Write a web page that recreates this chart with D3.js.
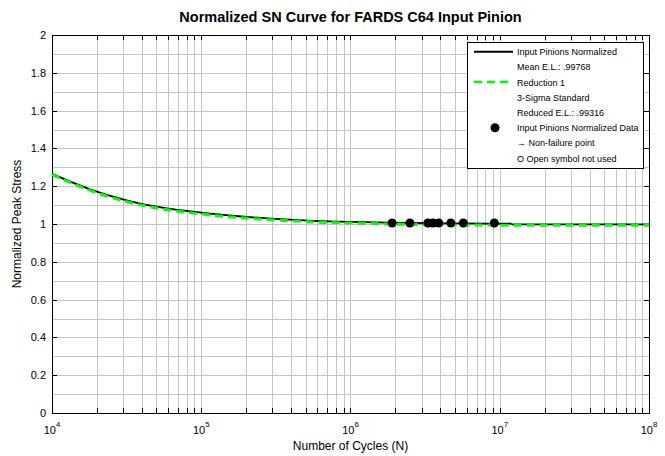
<!DOCTYPE html>
<html><head><meta charset="utf-8">
<script src="https://cdn.jsdelivr.net/npm/d3@7"></script>
<style>
html,body{margin:0;padding:0;background:#fff;}
text{font-family:"Liberation Sans",Arial,sans-serif;}
</style></head>
<body><svg id="c" width="665" height="456"></svg>
<script>
// ---- data ----
const title = "Normalized SN Curve for FARDS C64 Input Pinion";
const xLabel = "Number of Cycles (N)";
const yLabel = "Normalized Peak Stress";
const meanCycles = [1e4, 1.78e4, 3.16e4, 5.62e4, 1e5, 1.78e5, 3.16e5, 5.62e5, 1e6, 1.78e6, 3.16e6, 5.62e6, 1e7, 1.2e7];
const meanStress = [1.265, 1.185, 1.125, 1.085, 1.060, 1.041, 1.027, 1.017, 1.011, 1.007, 1.004, 1.003, 1.002, 1.002];
const meanTailCycles = [1.2e7, 1e8];
const meanTailStress = [0.998, 0.998];
const redCycles = [1e4, 1.78e4, 3.16e4, 5.62e4, 1e5, 1.78e5, 3.16e5, 5.62e5, 1e6, 1.78e6, 3.16e6, 5.62e6, 1e7, 1e8];
const redStress = [1.262, 1.179, 1.118, 1.078, 1.053, 1.034, 1.021, 1.011, 1.005, 1.000, 0.997, 0.995, 0.994, 0.993];
const dataCycles = [1.9e6, 2.5e6, 3.3e6, 3.57e6, 3.9e6, 4.7e6, 5.7e6, 9.2e6];
const dataStress = [1.005, 1.005, 1.005, 1.005, 1.005, 1.005, 1.005, 1.005];
const yTicks = [0, 0.2, 0.4, 0.6, 0.8, 1, 1.2, 1.4, 1.6, 1.8, 2];
const yTickLabels = ["0", "0.2", "0.4", "0.6", "0.8", "1", "1.2", "1.4", "1.6", "1.8", "2"];
const xDecades = [4, 5, 6, 7, 8];
const legendItems = [
  {type:"line", color:"#000", dash:null, label:"Input Pinions Normalized"},
  {type:"none", label:"Mean E.L.: .99768"},
  {type:"line", color:"#00ff00", dash:"8,5", label:"Reduction 1"},
  {type:"none", label:"3-Sigma Standard"},
  {type:"none", label:"Reduced E.L.: .99316"},
  {type:"dot", label:"Input Pinions Normalized Data"},
  {type:"none", label:"\u2192 Non-failure point"},
  {type:"none", label:"O Open symbol not used"}
];

// ---- layout ----
const L = 52, R = 649, T = 35, B = 413;
const svg = d3.select("#c");
const x = d3.scaleLog().domain([1e4, 1e8]).range([L, R]);
const y = d3.scaleLinear().domain([0, 2]).range([B, T]);

// grid
const minor = [];
for (let d = 4; d < 8; d++) for (let m = 1; m <= 9; m++) minor.push(m * Math.pow(10, d));
minor.push(1e8);
const g = svg.append("g");
g.selectAll("line.vg").data(minor.filter(v => v > 1e4 && v < 1e8)).join("line")
  .attr("x1", d => Math.round(x(d)) + 0.5).attr("x2", d => Math.round(x(d)) + 0.5)
  .attr("y1", T).attr("y2", B).attr("stroke", "#c4c4c4").attr("stroke-width", 1);
const hg = d3.range(1, 20).map(i => i / 10);
g.selectAll("line.hg").data(hg).join("line")
  .attr("x1", L).attr("x2", R)
  .attr("y1", d => Math.round(y(d)) + 0.5).attr("y2", d => Math.round(y(d)) + 0.5)
  .attr("stroke", "#c4c4c4").attr("stroke-width", 1);

// ticks (inward)
const tk = svg.append("g").attr("stroke", "#000").attr("stroke-width", 1);
minor.forEach(v => {
  const px = Math.round(x(v)) + 0.5;
  tk.append("line").attr("x1", px).attr("x2", px).attr("y1", B).attr("y2", B - 5);
  tk.append("line").attr("x1", px).attr("x2", px).attr("y1", T).attr("y2", T + 5);
});
yTicks.forEach(v => {
  const py = Math.round(y(v)) + 0.5;
  tk.append("line").attr("x1", L).attr("x2", L + 5).attr("y1", py).attr("y2", py);
  tk.append("line").attr("x1", R).attr("x2", R - 5).attr("y1", py).attr("y2", py);
});

// frame
svg.append("rect").attr("x", L + 0.5).attr("y", T + 0.5).attr("width", R - L).attr("height", B - T)
  .attr("fill", "none").attr("stroke", "#000").attr("stroke-width", 1);

// y tick labels
svg.append("g").selectAll("text").data(yTicks).join("text")
  .attr("x", L - 6).attr("y", d => y(d) + 4).attr("text-anchor", "end")
  .attr("font-size", 11).attr("fill", "#000").text((d, i) => yTickLabels[i]);

// x tick labels 10^n
const xl = svg.append("g");
xDecades.forEach(e => {
  const t = xl.append("text").attr("x", x(Math.pow(10, e))).attr("y", 434)
    .attr("text-anchor", "middle").attr("font-size", 11).attr("fill", "#000");
  t.append("tspan").text("10");
  t.append("tspan").attr("dy", -7).attr("font-size", 8).text(e);
});

// axis titles
svg.append("text").attr("x", 350.5).attr("y", 450).attr("text-anchor", "middle")
  .attr("font-size", 12).attr("fill", "#000").text(xLabel);
svg.append("text").attr("transform", "translate(21,224) rotate(-90)").attr("text-anchor", "middle")
  .attr("font-size", 12).attr("fill", "#000").text(yLabel);
svg.append("text").attr("x", 350.5).attr("y", 22).attr("text-anchor", "middle")
  .attr("font-size", 14.5).attr("font-weight", "bold").attr("fill", "#000").text(title);

// curves
const line = d3.line().x(d => x(d[0])).y(d => y(d[1])).curve(d3.curveMonotoneX);
svg.append("path").datum(meanCycles.map((c, i) => [c, meanStress[i]]))
  .attr("d", line).attr("fill", "none").attr("stroke", "#000").attr("stroke-width", 1.8);
svg.append("path").datum(meanTailCycles.map((c, i) => [c, meanTailStress[i]]))
  .attr("d", line).attr("fill", "none").attr("stroke", "#000").attr("stroke-width", 1.8);
svg.append("path").datum(redCycles.map((c, i) => [c, redStress[i]]))
  .attr("d", line).attr("fill", "none").attr("stroke", "#00ff00").attr("stroke-width", 3)
  .attr("stroke-dasharray", "8,5");

// data points
svg.append("g").selectAll("circle").data(dataCycles).join("circle")
  .attr("cx", d => x(d)).attr("cy", (d, i) => y(dataStress[i])).attr("r", 4.5).attr("fill", "#000");

// legend
const lg = svg.append("g");
lg.append("rect").attr("x", 467.5).attr("y", 42.5).attr("width", 176).attr("height", 126)
  .attr("fill", "#fff").attr("stroke", "#000").attr("stroke-width", 1);
legendItems.forEach((it, i) => {
  const yy = 51.7 + i * 15.2;
  if (it.type === "line") {
    lg.append("line").attr("x1", 474).attr("x2", 513).attr("y1", yy).attr("y2", yy)
      .attr("stroke", it.color).attr("stroke-width", it.dash ? 2.5 : 2)
      .attr("stroke-dasharray", it.dash);
  } else if (it.type === "dot") {
    lg.append("circle").attr("cx", 495).attr("cy", yy).attr("r", 4.5).attr("fill", "#000");
  }
  lg.append("text").attr("x", 517).attr("y", yy + 3.5).attr("font-size", 9)
    .attr("fill", "#000").text(it.label);
});
</script></body></html>
